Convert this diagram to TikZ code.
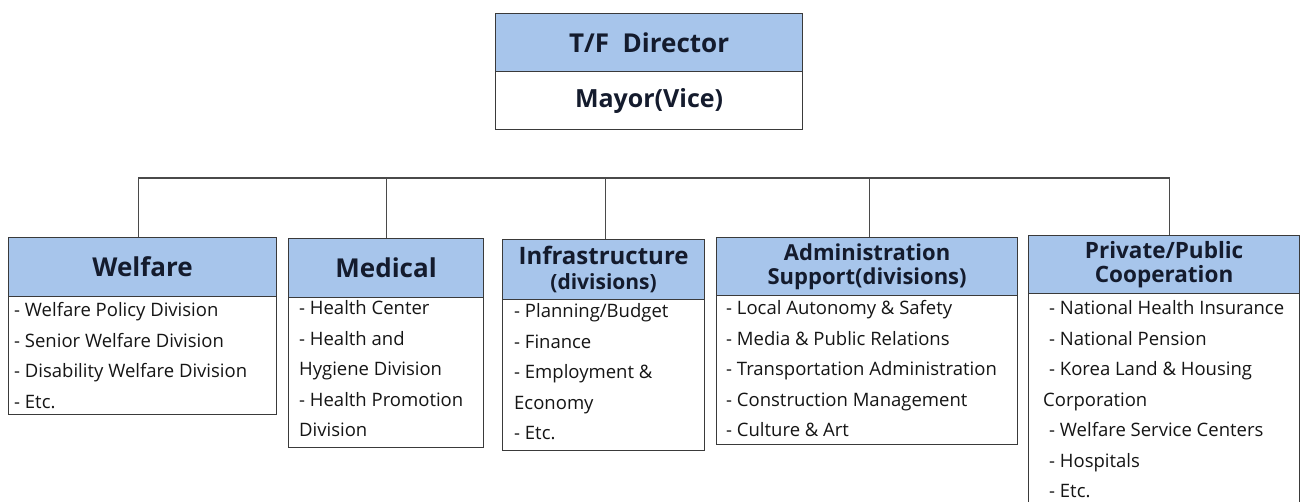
\documentclass[tikz,border=0pt]{standalone}
\usepackage{fontspec}
\setmainfont{Open Sans}
\definecolor{hdr}{HTML}{A7C5EB}
\definecolor{edge}{HTML}{3A3A3A}
\definecolor{hdrtext}{HTML}{141B2D}
\definecolor{bodytext}{HTML}{151515}
\definecolor{linkc}{HTML}{4A4A4A}
\newcommand{\bodylines}[2]{\parbox[t]{#1}{\raggedright\fontsize{18.5}{30.5}\selectfont #2}}
\tikzset{
  hdrbox/.style={draw=edge, line width=1.2pt, fill=hdr, anchor=north west, inner sep=0pt, align=center, text=hdrtext},
  bodybox/.style={draw=edge, line width=1.2pt, fill=white, anchor=north west, inner sep=0pt},
  bodytxt/.style={anchor=base west, inner sep=0pt, text=bodytext},
  linkline/.style={draw=linkc, line width=1.2pt},
}
\begin{document}
\begin{tikzpicture}[x=1pt, y=-1pt]
\clip (0,0) rectangle (1301,502);
\fill[white] (0,0) rectangle (1301,502);

% top box
\node[bodybox, minimum width=307pt, minimum height=58pt, font=\bfseries\fontsize{25}{30}\selectfont, text=hdrtext] (topb) at (495,71) {Mayor(Vice)};
\node[hdrbox, minimum width=307pt, minimum height=58pt, font=\bfseries\fontsize{26}{30}\selectfont] (toph) at (495,13) {T/F\ \ Director};

% Welfare
\node[bodybox, minimum width=268pt, minimum height=118pt] (welb) at (8,296) {};
\node[hdrbox, minimum width=268pt, minimum height=59pt, font=\bfseries\fontsize{26}{30}\selectfont] (welh) at (8,237) {Welfare};
\node[bodytxt] (welt) at (14,317) {\bodylines{265pt}{- Welfare Policy Division\\- Senior Welfare Division\\- Disability Welfare Division\\- Etc.}};

% Medical
\node[bodybox, minimum width=195pt, minimum height=150pt] (medb) at (288,297) {};
\node[hdrbox, minimum width=195pt, minimum height=59pt, font=\bfseries\fontsize{26}{30}\selectfont] (medh) at (288,238) {Medical};
\node[bodytxt] (medt) at (299,315) {\bodylines{185pt}{- Health Center\\- Health and\\Hygiene Division\\- Health Promotion\\Division}};

% Infrastructure
\node[bodybox, minimum width=202pt, minimum height=151pt] (infb) at (502,299) {};
\node[hdrbox, minimum width=202pt, minimum height=60pt, font=\bfseries\fontsize{24}{25}\selectfont] (infh) at (502,239) {Infrastructure\\{\fontsize{21}{25}\selectfont (divisions)}};
\node[bodytxt] (inft) at (514,318) {\bodylines{190pt}{- Planning/Budget\\- Finance\\- Employment \&\\Economy\\- Etc.}};

% Administration
\node[bodybox, minimum width=301pt, minimum height=149pt] (admb) at (716,295) {};
\node[hdrbox, minimum width=301pt, minimum height=58pt, font=\bfseries\fontsize{22}{24}\selectfont] (admh) at (716,237) {Administration\\Support(divisions)};
\node[bodytxt] (admt) at (726,315) {\bodylines{290pt}{- Local Autonomy \& Safety\\- Media \& Public Relations\\- Transportation Administration\\- Construction Management\\- Culture \& Art}};

% Private/Public
\node[bodybox, minimum width=271pt, minimum height=240pt] (prib) at (1028,293) {};
\node[hdrbox, minimum width=271pt, minimum height=58pt, font=\bfseries\fontsize{22.5}{23.5}\selectfont] (prih) at (1028,235) {Private/Public\\Cooperation};
\node[bodytxt] (prit) at (1043,315) {\bodylines{255pt}{\hspace*{6pt}- National Health Insurance\\\hspace*{6pt}- National Pension\\\hspace*{6pt}- Korea Land \& Housing\\Corporation\\\hspace*{6pt}- Welfare Service Centers\\\hspace*{6pt}- Hospitals\\\hspace*{6pt}- Etc.}};

% connectors
\coordinate (bus) at (0,178);
\coordinate (welc) at ([xshift=-4pt]welh.north);
\coordinate (pric) at ([xshift=5pt]prih.north);
\coordinate (infc) at ([xshift=2pt]infh.north);
\coordinate (admc) at ([xshift=2pt]admh.north);
\draw[linkline] (welc) |- (pric |- bus) -- (pric);
\draw[linkline] (medh.north) -- (medh.north |- bus);
\draw[linkline] (infc) -- (infc |- bus);
\draw[linkline] (admc) -- (admc |- bus);
\end{tikzpicture}
\end{document}
